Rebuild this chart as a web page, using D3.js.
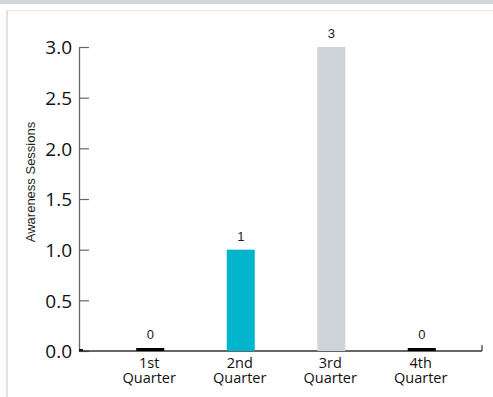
<!DOCTYPE html>
<html>
<head>
<meta charset="utf-8">
<script src="https://cdn.jsdelivr.net/npm/d3@7"></script>
<style>
  html, body { margin: 0; padding: 0; background: #fff; }
  svg { display: block; }
</style>
</head>
<body>
<svg id="chart" width="493" height="397"></svg>
<script>
// Awareness sessions held per quarter
const quarters = ["1st Quarter", "2nd Quarter", "3rd Quarter", "4th Quarter"];
const quarterLines = [["1st", "Quarter"], ["2nd", "Quarter"], ["3rd", "Quarter"], ["4th", "Quarter"]];
const sessions = [0, 1, 3, 0];
const barColors = ["#000000", "#00b5cc", "#cfd4d8", "#000000"];
const yTicks = [0, 0.5, 1, 1.5, 2, 2.5, 3];
const yTitle = "Awareness Sessions";

const svg = d3.select("#chart");

// page furniture: header strip and card border
svg.append("rect").attr("x", 0).attr("y", 0).attr("width", 493).attr("height", 4).attr("fill", "#d0d6db");
svg.append("rect").attr("x", 6).attr("y", 10).attr("width", 2).attr("height", 387).attr("fill", "#e3e3e3");
svg.append("rect").attr("x", 6).attr("y", 10).attr("width", 487).attr("height", 1).attr("fill", "#e6e6e6");

const axisX = 79, axisRight = 482;
const y = d3.scaleLinear().domain([0, 3]).range([351, 47]);
const x = d3.scaleBand().domain(quarters).range([105, 467]).paddingInner(0.69).paddingOuter(0.345);

// y axis with inward ticks
const yAxis = svg.append("g")
  .attr("transform", `translate(${axisX},0)`)
  .call(d3.axisRight(y).tickValues(yTicks).tickSize(10).tickSizeOuter(0).tickFormat(d3.format(".1f")));
yAxis.select(".domain").attr("stroke", "#666").attr("stroke-width", 1.3);
yAxis.selectAll(".tick line").attr("stroke", "#666").attr("stroke-width", 1.2);
yAxis.selectAll(".tick text")
  .attr("x", -7).attr("dy", "0.36em").attr("text-anchor", "end")
  .attr("font-family", "'Open Sans', 'Noto Sans', sans-serif")
  .attr("font-size", 19).attr("fill", "#111");

// x baseline with an end tick
svg.append("line").attr("x1", axisX).attr("x2", axisRight).attr("y1", y(0)).attr("y2", y(0))
  .attr("stroke", "#333").attr("stroke-width", 1.3);
svg.append("line").attr("x1", axisRight).attr("x2", axisRight).attr("y1", y(0) - 6).attr("y2", y(0))
  .attr("stroke", "#333").attr("stroke-width", 1.2);
svg.append("line").attr("x1", axisX).attr("x2", axisX + 4).attr("y1", y(0) - 1).attr("y2", y(0) - 1)
  .attr("stroke", "#111").attr("stroke-width", 2);

// bars; empty quarters get a thin marker at the baseline
const minH = 3;
svg.append("g").selectAll("rect").data(sessions).join("rect")
  .attr("x", (d, i) => x(quarters[i]))
  .attr("width", x.bandwidth())
  .attr("y", d => Math.min(y(d), y(0) - minH))
  .attr("height", d => Math.max(y(0) - y(d), minH))
  .attr("fill", (d, i) => barColors[i]);

// value labels
svg.append("g").selectAll("text").data(sessions).join("text")
  .attr("x", (d, i) => x(quarters[i]) + x.bandwidth() / 2)
  .attr("y", d => Math.min(y(d), y(0) - minH) - 9)
  .attr("text-anchor", "middle")
  .attr("font-family", "'Liberation Sans', Arial, sans-serif")
  .attr("font-size", 13).attr("fill", "#222")
  .text(d => d);

// category labels on two lines
const catG = svg.append("g")
  .attr("font-family", "'Open Sans', 'Noto Sans', sans-serif")
  .attr("font-size", 14.5).attr("fill", "#111").attr("text-anchor", "middle");
quarters.forEach((q, i) => {
  quarterLines[i].forEach((line, j) => {
    catG.append("text")
      .attr("x", x(q) + x.bandwidth() / 2 - 1)
      .attr("y", 368 + j * 15)
      .text(line);
  });
});

// y axis title
svg.append("text")
  .attr("transform", `translate(35,${(y(0) + y(3)) / 2 - 17}) rotate(-90)`)
  .attr("text-anchor", "middle")
  .attr("font-family", "'Liberation Sans', Arial, sans-serif")
  .attr("font-size", 13).attr("fill", "#222")
  .text(yTitle);
</script>
</body>
</html>
